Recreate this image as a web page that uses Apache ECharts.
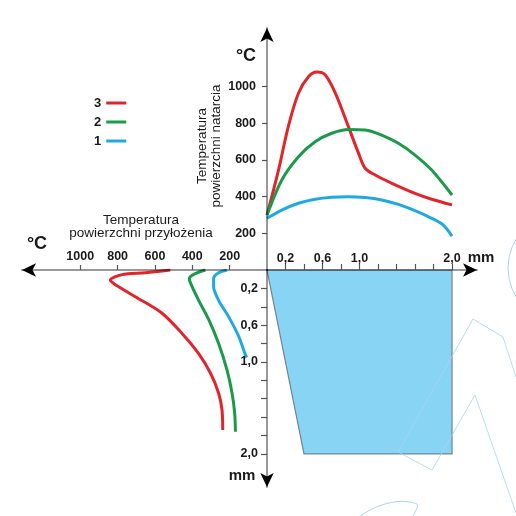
<!DOCTYPE html>
<html>
<head>
<meta charset="utf-8">
<script src="https://cdn.jsdelivr.net/npm/echarts@6/dist/echarts.min.js"></script>
<style>
html,body{margin:0;padding:0;background:#fff;}
#chart{width:516px;height:516px;}
</style>
</head>
<body>
<div id="chart"></div>
<script>
// ---- data ----
// upper-right quadrant: [depth along surface (mm), temperature (°C)]
const curve3Top = [[0,300],[0.125,546],[0.23,782],[0.34,964],[0.45,1055],[0.54,1080],[0.63,1064],[0.74,964],[0.88,782],[0.99,636],[1.06,555],[1.17,518],[1.35,473],[1.6,418],[1.78,386],[2.0,355]];
const curve2Top = [[0,300],[0.16,491],[0.34,618],[0.52,700],[0.70,746],[0.88,767],[1.06,764],[1.24,736],[1.42,691],[1.6,627],[1.78,545],[2.0,409]];
const curve1Top = [[0,282],[0.16,327],[0.34,364],[0.52,386],[0.70,397],[0.88,400],[1.06,395],[1.24,382],[1.42,358],[1.6,324],[1.78,282],[1.9,247],[2.0,185]];
// lower-left quadrant: [temperature (°C), depth (mm)]
const curve3Side = [[518,0],[652,0.03],[776,0.05],[839,0.11],[812,0.16],[705,0.29],[562,0.47],[455,0.69],[366,0.91],[303,1.12],[259,1.34],[241,1.52],[237,1.74]];
const curve2Side = [[330,0],[384,0.04],[416,0.09],[410,0.14],[366,0.33],[312,0.54],[259,0.80],[214,1.09],[187,1.34],[173,1.56],[169,1.76]];
const curve1Side = [[214,0],[259,0.03],[286,0.09],[286,0.18],[259,0.33],[205,0.51],[152,0.72],[116,0.92],[108,0.95]];
// lower-right quadrant: tool wedge outline [mm, mm]
const wedge = [[0,0],[2.0,0],[2.0,2.0],[0.4,2.0]];
// axis ticks / labels
const mmTicks = [0.2,0.4,0.6,0.8,1.0,1.2,1.4,1.6,1.8,2.0];
const mmLabels = [0.2,0.6,1.0,2.0];
const tempTicks = [200,400,600,800,1000];
const legendNames = ['3','2','1'];

const RED = '#e0262c', GREEN = '#1b9a4b', BLUE = '#1fa9e3';
const FONT = '"Liberation Sans", Arial, sans-serif';
const TXT = '#1a1a1a';

const chart = echarts.init(document.getElementById('chart'));

function axisLine(inv) {
  return {
    show: true, onZero: false,
    symbol: inv ? ['arrow','none'] : ['none','arrow'], symbolSize: [10,14],
    lineStyle: {color: '#000', opacity: 0.4, width: 2}
  };
}
const lblStyle = {color: TXT, fontFamily: FONT, fontWeight: 'bold', fontSize: 12.5};
const mmFmt = v => Number(v).toFixed(1).replace('.', ',');
const tFmt = v => String(Math.round(v));

function lineSeries(name, data, color, idx) {
  return {
    name, type: 'line', data, xAxisIndex: idx, yAxisIndex: idx,
    symbol: 'none', smooth: 0.3, color,
    lineStyle: {width: 3, color}, z: 3
  };
}

chart.setOption({
  animation: false,
  backgroundColor: '#fff',
  grid: [
    {left: 267, top: 28, width: 210, height: 242},
    {left: 22, top: 270, width: 245, height: 217},
    {left: 267, top: 270, width: 210, height: 217}
  ],
  xAxis: [
    {gridIndex: 0, type: 'value', min: 0, max: 2.27, position: 'bottom', z: 5,
     axisLine: axisLine(false), splitLine: {show: false},
     axisTick: {inside: true, length: 6, customValues: mmTicks, lineStyle: {color: '#555', width: 1.2}},
     axisLabel: Object.assign({inside: true, margin: 5, customValues: mmLabels, formatter: mmFmt}, lblStyle)},
    {gridIndex: 1, type: 'value', min: 0, max: 1312, inverse: true, position: 'top', z: 5,
     axisLine: axisLine(true), splitLine: {show: false},
     axisTick: {length: 5, customValues: tempTicks, lineStyle: {color: '#555', width: 1.2}},
     axisLabel: Object.assign({margin: 7, customValues: tempTicks, formatter: tFmt}, lblStyle)},
    {gridIndex: 2, type: 'value', min: 0, max: 2.27, show: false}
  ],
  yAxis: [
    {gridIndex: 0, type: 'value', min: 0, max: 1320, position: 'left', z: 5,
     axisLine: axisLine(false), splitLine: {show: false},
     axisTick: {length: 5, customValues: tempTicks, lineStyle: {color: '#555', width: 1.2}},
     axisLabel: Object.assign({margin: 11, customValues: tempTicks, formatter: tFmt}, lblStyle)},
    {gridIndex: 1, type: 'value', min: 0, max: 2.36, inverse: true, position: 'right', z: 5,
     axisLine: axisLine(true), splitLine: {show: false},
     axisTick: {inside: true, length: 6, customValues: mmTicks, lineStyle: {color: '#555', width: 1.2}},
     axisLabel: Object.assign({inside: true, margin: 9, customValues: mmLabels, formatter: mmFmt}, lblStyle)},
    {gridIndex: 2, type: 'value', min: 0, max: 2.36, inverse: true, show: false}
  ],
  legend: {
    data: legendNames, orient: 'vertical', left: 89, top: 91,
    align: 'right', icon: 'rect', itemWidth: 20, itemHeight: 3, itemGap: 5,
    selectedMode: false,
    textStyle: {color: TXT, fontFamily: FONT, fontWeight: 'bold', fontSize: 13, lineHeight: 14}
  },
  series: [
    lineSeries('3', curve3Top, RED, 0),
    lineSeries('2', curve2Top, GREEN, 0),
    lineSeries('1', curve1Top, BLUE, 0),
    lineSeries('3', curve3Side, RED, 1),
    lineSeries('2', curve2Side, GREEN, 1),
    lineSeries('1', curve1Side, BLUE, 1),
    {
      type: 'custom', xAxisIndex: 2, yAxisIndex: 2, data: wedge, z: 1, silent: true,
      renderItem: function (params, api) {
        if (params.dataIndex !== 0) return null;
        return {
          type: 'polygon',
          shape: {points: wedge.map(p => api.coord(p))},
          style: {fill: '#87d4f5', stroke: '#6f8793', lineWidth: 1.2}
        };
      }
    }
  ],
  graphic: [
    // faint watermark strokes
    {type: 'polyline', z: 100, silent: true, shape: {points: [[398,452],[473,319],[503,337],[516,377]]}, style: {stroke: '#a9d5ee', lineWidth: 1, fill: null, opacity: 0.8}},
    {type: 'polyline', z: 100, silent: true, shape: {points: [[398,452],[432,470],[475,395],[516,513]]}, style: {stroke: '#a9d5ee', lineWidth: 1, fill: null, opacity: 0.8}},
    {type: 'circle', z: 0, silent: true, shape: {cx: 563, cy: 268, r: 55}, style: {stroke: '#a9d5ee', lineWidth: 1, fill: null}},
    {type: 'polyline', z: 0, silent: true, shape: {points: [[360,516],[372,509],[385,504],[398,501.5],[410,502],[417.5,505],[413,516]], smooth: 0.3}, style: {stroke: '#a9d5ee', lineWidth: 1, fill: null}},
    // texts
    {type: 'text', x: 209, y: 146, rotation: Math.PI / 2, z: 10,
     style: {text: 'Temperatura\npowierzchni natarcia', fill: TXT, font: '13.5px ' + FONT, align: 'center', verticalAlign: 'middle', lineHeight: 14}},
    {type: 'text', x: 141, y: 227, z: 10,
     style: {text: 'Temperatura\npowierzchni przyłożenia', fill: TXT, font: '13.5px ' + FONT, align: 'center', verticalAlign: 'middle', lineHeight: 13.5}},
    {type: 'text', x: 246, y: 56, z: 10,
     style: {text: '°C', fill: TXT, font: 'bold 18px ' + FONT, align: 'center', verticalAlign: 'middle'}},
    {type: 'text', x: 37, y: 244, z: 10,
     style: {text: '°C', fill: TXT, font: 'bold 18px ' + FONT, align: 'center', verticalAlign: 'middle'}},
    {type: 'text', x: 481, y: 258, z: 10,
     style: {text: 'mm', fill: TXT, font: 'bold 15px ' + FONT, align: 'center', verticalAlign: 'middle'}},
    {type: 'text', x: 242, y: 476, z: 10,
     style: {text: 'mm', fill: TXT, font: 'bold 15px ' + FONT, align: 'center', verticalAlign: 'middle'}}
  ]
});
</script>
</body>
</html>
